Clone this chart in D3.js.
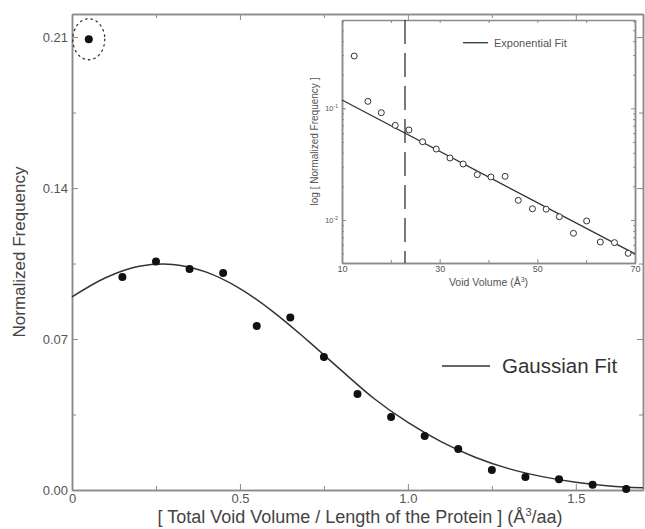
<!DOCTYPE html>
<html>
<head>
<meta charset="utf-8">
<script src="https://cdn.jsdelivr.net/npm/d3@7"></script>
<style>
  body { margin: 0; background: #fff; }
  svg { display: block; font-family: "Liberation Sans", Arial, sans-serif; }
  .frame path.domain { stroke: #8a8a8a; stroke-width: 1.5; }
  .frame line { stroke: #8a8a8a; stroke-width: 1; }
  .frame text { fill: #555; }
</style>
</head>
<body>
<div class="chart"></div>
<script>
// Void volume distribution with gaussian fit, inset log plot with exponential fit

// main plot data
var voidX = [0.05, 0.15, 0.25, 0.35, 0.45, 0.55, 0.65, 0.75, 0.85, 0.95, 1.05, 1.15, 1.25, 1.35, 1.45, 1.55, 1.65];
var voidY = [0.209, 0.0988, 0.106, 0.1025, 0.1006, 0.076, 0.080, 0.0617, 0.0445, 0.0338, 0.025, 0.019, 0.0093, 0.006, 0.005, 0.0024, 0.0005];

// gaussian fit
var gaussX = [0, 0.1, 0.2, 0.3, 0.4, 0.5, 0.6, 0.7, 0.8, 0.9, 1.0, 1.1, 1.2, 1.3, 1.4, 1.5, 1.6, 1.7];
var gaussY = [0.0895, 0.0984, 0.1037, 0.1046, 0.1010, 0.0934, 0.0825, 0.0695, 0.0557, 0.0423, 0.0313, 0.0223, 0.0152, 0.0099, 0.0062, 0.0036, 0.0019, 0.0010];

var mainXTicks = [0, 0.5, 1.0, 1.5];
var mainXMinor = [0.25, 0.75, 1.25];
var mainYTicks = [0, 0.07, 0.14, 0.21];
var mainYMinor = [0.035, 0.105, 0.175];

// inset data
var insetX = [12.5, 15.3, 18.05, 20.9, 23.7, 26.5, 29.3, 32.1, 34.8, 37.7, 40.5, 43.4, 46.1, 49.0, 51.8, 54.5, 57.4, 60.1, 62.9, 65.8, 68.6];
var insetY = [0.294, 0.1155, 0.0914, 0.0704, 0.064, 0.0502, 0.0432, 0.0359, 0.0317, 0.0255, 0.0243, 0.0246, 0.0150, 0.0126, 0.0125, 0.0107, 0.0076, 0.0098, 0.00635, 0.00627, 0.00503];
var expFitX = [10, 70];
var expFitY = [0.1187, 0.00497];
var cutoffX = 22.9;

var insetXTicks = [10, 30, 50, 70];
var insetXMinor = [20, 40, 60];
var insetYTicks = [0.01, 0.1];
var insetYMinor = [0.005, 0.006, 0.007, 0.008, 0.009, 0.02, 0.03, 0.04, 0.05, 0.06, 0.07, 0.08, 0.09, 0.2, 0.3, 0.4, 0.5, 0.6];

var svgWidth = 645;
var svgHeight = 529;

var svg = d3.select(".chart")
  .append("svg")
  .attr("width", svgWidth)
  .attr("height", svgHeight);

// main plot box
var plotLeft = 72, plotRight = 643, plotTop = 14, plotBottom = 490;

var xScale = d3.scaleLinear().domain([0, 1.7]).range([plotLeft, plotRight]);
var yScale = d3.scaleLinear().domain([0, 0.2207]).range([plotBottom, plotTop]);

var fmtX = d => d === 0 ? "0" : d3.format(".1f")(d);

// bottom axis with labels
svg.append("g")
  .attr("class", "frame")
  .attr("transform", `translate(0, ${plotBottom})`)
  .call(d3.axisBottom(xScale).tickValues(mainXTicks).tickFormat(fmtX).tickSizeInner(-6).tickSizeOuter(0).tickPadding(4))
  .call(g => g.selectAll("text").attr("font-size", "13px"));

svg.append("g")
  .attr("class", "frame")
  .attr("transform", `translate(0, ${plotBottom})`)
  .call(d3.axisBottom(xScale).tickValues(mainXMinor).tickFormat("").tickSizeInner(-4).tickSizeOuter(0));

// top axis, ticks only
svg.append("g")
  .attr("class", "frame")
  .attr("transform", `translate(0, ${plotTop})`)
  .call(d3.axisTop(xScale).tickValues(mainXTicks).tickFormat("").tickSizeInner(-6).tickSizeOuter(0));

svg.append("g")
  .attr("class", "frame")
  .attr("transform", `translate(0, ${plotTop})`)
  .call(d3.axisTop(xScale).tickValues(mainXMinor).tickFormat("").tickSizeInner(-4).tickSizeOuter(0));

// left axis
svg.append("g")
  .attr("class", "frame")
  .attr("transform", `translate(${plotLeft}, 0)`)
  .call(d3.axisLeft(yScale).tickValues(mainYTicks).tickFormat(d3.format(".2f")).tickSizeInner(-6).tickSizeOuter(0).tickPadding(4))
  .call(g => g.selectAll("text").attr("font-size", "13px"));

svg.append("g")
  .attr("class", "frame")
  .attr("transform", `translate(${plotLeft}, 0)`)
  .call(d3.axisLeft(yScale).tickValues(mainYMinor).tickFormat("").tickSizeInner(-4).tickSizeOuter(0));

// right axis, ticks only
svg.append("g")
  .attr("class", "frame")
  .attr("transform", `translate(${plotRight}, 0)`)
  .call(d3.axisRight(yScale).tickValues(mainYTicks).tickFormat("").tickSizeInner(-6).tickSizeOuter(0));

svg.append("g")
  .attr("class", "frame")
  .attr("transform", `translate(${plotRight}, 0)`)
  .call(d3.axisRight(yScale).tickValues(mainYMinor).tickFormat("").tickSizeInner(-4).tickSizeOuter(0));

// axis titles
svg.append("text")
  .attr("transform", `translate(25, ${(plotTop + plotBottom) / 2}) rotate(-90)`)
  .attr("text-anchor", "middle")
  .attr("font-size", "17px")
  .attr("fill", "#444")
  .text("Normalized Frequency");

var xTitle = svg.append("text")
  .attr("x", 360)
  .attr("y", 523)
  .attr("text-anchor", "middle")
  .attr("font-size", "18px")
  .attr("fill", "#444");
xTitle.append("tspan").text("[ Total Void Volume / Length of the Protein ] (Å");
xTitle.append("tspan").attr("font-size", "11px").attr("dy", -7).text("3");
xTitle.append("tspan").attr("dy", 7).text("/aa)");

// gaussian fit
var fitLine = d3.line()
  .x((d, i) => xScale(gaussX[i]))
  .y((d, i) => yScale(gaussY[i]))
  .curve(d3.curveCatmullRom);

svg.append("path")
  .datum(gaussY)
  .attr("d", fitLine)
  .attr("fill", "none")
  .attr("stroke", "#333")
  .attr("stroke-width", 1.5);

// data points
svg.selectAll(".pt")
  .data(voidY)
  .enter()
  .append("circle")
  .attr("class", "pt")
  .attr("cx", (d, i) => xScale(voidX[i]))
  .attr("cy", d => yScale(d))
  .attr("r", 4)
  .attr("fill", "#111");

// dotted ellipse round the outlier
svg.append("ellipse")
  .attr("cx", xScale(voidX[0]))
  .attr("cy", yScale(voidY[0]))
  .attr("rx", 16)
  .attr("ry", 20.5)
  .attr("fill", "none")
  .attr("stroke", "#333")
  .attr("stroke-width", 1.3)
  .attr("stroke-dasharray", "1.5,4")
  .attr("stroke-linecap", "round");

// legend
svg.append("line")
  .attr("x1", 442).attr("x2", 490)
  .attr("y1", 366).attr("y2", 366)
  .attr("stroke", "#333")
  .attr("stroke-width", 1.5);

svg.append("text")
  .attr("x", 502)
  .attr("y", 373)
  .attr("font-size", "20.5px")
  .attr("fill", "#333")
  .text("Gaussian Fit");

// ---------- inset ----------
var iLeft = 342, iRight = 635, iTop = 20, iBottom = 263;

var ix = d3.scaleLinear().domain([10, 70]).range([iLeft, iRight]);
var iy = d3.scaleLog().domain([0.00412, 0.618]).range([iBottom, iTop]);

svg.append("rect")
  .attr("x", iLeft).attr("y", iTop)
  .attr("width", iRight - iLeft).attr("height", iBottom - iTop)
  .attr("fill", "#fff");

var inset = svg.append("g");

inset.append("g")
  .attr("class", "frame")
  .attr("transform", `translate(0, ${iBottom})`)
  .call(d3.axisBottom(ix).tickValues(insetXTicks).tickFormat(d3.format("d")).tickSizeInner(-4).tickSizeOuter(0).tickPadding(3))
  .call(g => g.selectAll("text").attr("font-size", "9px"));

inset.append("g")
  .attr("class", "frame")
  .attr("transform", `translate(0, ${iBottom})`)
  .call(d3.axisBottom(ix).tickValues(insetXMinor).tickFormat("").tickSizeInner(-3).tickSizeOuter(0));

inset.append("g")
  .attr("class", "frame")
  .attr("transform", `translate(0, ${iTop})`)
  .call(d3.axisTop(ix).tickValues(insetXTicks.concat(insetXMinor)).tickFormat("").tickSizeInner(-3).tickSizeOuter(0));

inset.append("g")
  .attr("class", "frame")
  .attr("transform", `translate(${iLeft}, 0)`)
  .call(d3.axisLeft(iy).tickValues(insetYTicks).tickFormat("").tickSizeInner(-4).tickSizeOuter(0));

inset.append("g")
  .attr("class", "frame")
  .attr("transform", `translate(${iLeft}, 0)`)
  .call(d3.axisLeft(iy).tickValues(insetYMinor).tickFormat("").tickSizeInner(-2).tickSizeOuter(0));

inset.append("g")
  .attr("class", "frame")
  .attr("transform", `translate(${iRight}, 0)`)
  .call(d3.axisRight(iy).tickValues(insetYTicks).tickFormat("").tickSizeInner(-4).tickSizeOuter(0));

inset.append("g")
  .attr("class", "frame")
  .attr("transform", `translate(${iRight}, 0)`)
  .call(d3.axisRight(iy).tickValues(insetYMinor).tickFormat("").tickSizeInner(-2).tickSizeOuter(0));

// thinner box for the inset
inset.selectAll("path.domain").attr("stroke-width", 1.2);

// log tick labels as 10^-n
insetYTicks.forEach(function(v) {
  var t = inset.append("text")
    .attr("x", iLeft - 4)
    .attr("y", iy(v) + 3)
    .attr("text-anchor", "end")
    .attr("font-size", "7.5px")
    .attr("fill", "#555");
  t.append("tspan").text("10");
  t.append("tspan").attr("font-size", "5px").attr("dy", -3).text("-" + Math.round(-Math.log10(v)));
});

// inset axis titles
var ixTitle = inset.append("text")
  .attr("x", (iLeft + iRight) / 2)
  .attr("y", 286)
  .attr("text-anchor", "middle")
  .attr("font-size", "10.5px")
  .attr("fill", "#555");
ixTitle.append("tspan").text("Void Volume (Å");
ixTitle.append("tspan").attr("font-size", "7px").attr("dy", -4).text("3");
ixTitle.append("tspan").attr("dy", 4).text(")");

inset.append("text")
  .attr("transform", `translate(318, ${(iTop + iBottom) / 2}) rotate(-90)`)
  .attr("text-anchor", "middle")
  .attr("font-size", "10px")
  .attr("fill", "#555")
  .text("log [ Normalized Frequency ]");

// cutoff dashed line
inset.append("line")
  .attr("x1", ix(cutoffX)).attr("x2", ix(cutoffX))
  .attr("y1", iTop).attr("y2", iBottom)
  .attr("stroke", "#333")
  .attr("stroke-width", 1.3)
  .attr("stroke-dasharray", "24,9");

// exponential fit
var expLine = d3.line()
  .x((d, i) => ix(expFitX[i]))
  .y((d, i) => iy(expFitY[i]));

inset.append("path")
  .datum(expFitY)
  .attr("d", expLine)
  .attr("fill", "none")
  .attr("stroke", "#333")
  .attr("stroke-width", 1.3);

// open circles
inset.selectAll(".ipt")
  .data(insetY)
  .enter()
  .append("circle")
  .attr("class", "ipt")
  .attr("cx", (d, i) => ix(insetX[i]))
  .attr("cy", d => iy(d))
  .attr("r", 3)
  .attr("fill", "#fff")
  .attr("stroke", "#333")
  .attr("stroke-width", 1);

// inset legend
inset.append("line")
  .attr("x1", 463).attr("x2", 488)
  .attr("y1", 42.7).attr("y2", 42.7)
  .attr("stroke", "#333")
  .attr("stroke-width", 1.3);

inset.append("text")
  .attr("x", 494)
  .attr("y", 46.5)
  .attr("font-size", "11px")
  .attr("fill", "#555")
  .text("Exponential Fit");
</script>
</body>
</html>
